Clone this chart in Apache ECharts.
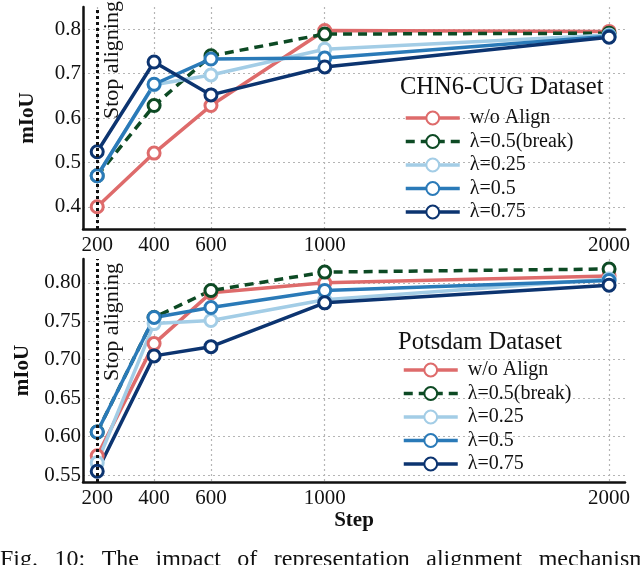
<!DOCTYPE html>
<html lang="en">
<head>
<meta charset="UTF-8">
<title>mIoU vs Step</title>
<script src="https://cdn.jsdelivr.net/npm/echarts@6/dist/echarts.min.js"></script>
<style>
    html, body { margin: 0; padding: 0; background: #fff; }
    #main { width: 640px; height: 565px; }
</style>
</head>
<body>
<div id="main"></div>
<script>
    // x positions (training step)
    var steps = [200, 400, 600, 1000, 2000];
    var stopStep = 200;
    var seriesNames = ['w/o Align', 'λ=0.5(break)', 'λ=0.25', 'λ=0.5', 'λ=0.75'];
    var seriesColors = ['#de6b6b', '#0d4a24', '#a3cde6', '#2a7ab8', '#0c3470'];

    // CHN6-CUG panel
    var chnWoAlign = [0.400, 0.521, 0.628, 0.797, 0.795];
    var chnBreak   = [0.470, 0.628, 0.740, 0.789, 0.791];
    var chnL025    = [0.470, 0.675, 0.697, 0.755, 0.787];
    var chnL05     = [0.470, 0.676, 0.733, 0.735, 0.784];
    var chnL075    = [0.524, 0.726, 0.652, 0.715, 0.782];

    // Potsdam panel
    var potWoAlign = [0.575, 0.721, 0.787, 0.800, 0.809];
    var potBreak   = [0.606, 0.755, 0.790, 0.814, 0.818];
    var potL025    = [0.566, 0.747, 0.751, 0.778, 0.805];
    var potL05     = [0.606, 0.755, 0.768, 0.790, 0.803];
    var potL075    = [0.555, 0.705, 0.717, 0.774, 0.797];

    var chnTicks = [0.4, 0.5, 0.6, 0.7, 0.8];
    var potTicks = [0.55, 0.60, 0.65, 0.70, 0.75, 0.80];

    var captionWords = ['Fig.', '10:', 'The', 'impact', 'of', 'representation', 'alignment', 'mechanism'];

    var FONT = '"Liberation Serif", "Times New Roman", serif';

    function makeSeries(name, values, color, idx, dashed) {
        return {
            type: 'line',
            name: name,
            xAxisIndex: idx,
            yAxisIndex: idx,
            data: steps.map(function (s, i) { return [s, values[i]]; }),
            symbol: 'circle',
            symbolSize: 12,
            showAllSymbol: true,
            lineStyle: { color: color, width: 3.5, type: dashed ? [9, 6] : 'solid' },
            itemStyle: { color: '#fff', borderColor: color, borderWidth: 3 },
            emphasis: { disabled: true }
        };
    }

    function stopLine() {
        return {
            silent: true,
            symbol: ['none', 'none'],
            label: { show: false },
            lineStyle: { color: '#111', width: 3, type: [3, 3] },
            data: [{ xAxis: stopStep }]
        };
    }

    var chnData = [chnWoAlign, chnBreak, chnL025, chnL05, chnL075];
    var potData = [potWoAlign, potBreak, potL025, potL05, potL075];

    var series = [];
    chnData.forEach(function (d, i) {
        series.push(makeSeries(seriesNames[i], d, seriesColors[i], 0, i === 1));
    });
    potData.forEach(function (d, i) {
        series.push(makeSeries(seriesNames[i], d, seriesColors[i], 1, i === 1));
    });
    series[0].markLine = stopLine();
    series[5].markLine = stopLine();

    function xAxis(idx, withName) {
        return {
            type: 'value',
            gridIndex: idx,
            min: 150,
            max: 2056,
            name: withName ? 'Step' : '',
            nameLocation: 'middle',
            nameGap: 24,
            nameTextStyle: { fontFamily: FONT, fontSize: 21, fontWeight: 'bold', color: '#111' },
            axisLine: { onZero: false, lineStyle: { color: '#111', width: 2.5 } },
            axisTick: { show: false, customValues: steps },
            axisLabel: {
                customValues: steps,
                margin: 6,
                fontFamily: FONT, fontSize: 21, color: '#111',
                formatter: function (v) { return String(v); }
            },
            splitLine: { show: true, lineStyle: { color: '#b5b5b5', width: 1.2, type: [2, 3] } }
        };
    }

    function yAxis(idx, min, max, ticks, digits) {
        return {
            type: 'value',
            gridIndex: idx,
            min: min,
            max: max,
            name: 'mIoU',
            nameLocation: 'middle',
            nameGap: 45,
            nameTextStyle: { fontFamily: FONT, fontSize: 21, fontWeight: 'bold', color: '#111' },
            axisLine: { show: true, lineStyle: { color: '#111', width: 2.5 } },
            axisTick: { show: false, customValues: ticks },
            axisLabel: {
                customValues: ticks,
                margin: 2,
                fontFamily: FONT, fontSize: 21, color: '#111',
                formatter: function (v) { return v.toFixed(digits); }
            },
            splitLine: { show: true, lineStyle: { color: '#b5b5b5', width: 1.2, type: [2, 3] } }
        };
    }

    function legend(left, top) {
        return {
            left: left,
            top: top,
            orient: 'vertical',
            data: seriesNames,
            itemWidth: 54,
            itemHeight: 16,
            itemGap: 3.5,
            selectedMode: false,
            lineStyle: { width: 3.5 },
            textStyle: { fontFamily: FONT, fontSize: 20, color: '#111', padding: [0, 0, 0, 5] }
        };
    }

    var chart = echarts.init(document.getElementById('main'));
    var option = {
        animation: false,
        backgroundColor: '#fff',
        grid: [
            { left: 83, top: 7, width: 542, height: 222 },
            { left: 83, top: 259, width: 542, height: 223 }
        ],
        xAxis: [xAxis(0, false), xAxis(1, true)],
        yAxis: [
            yAxis(0, 0.35, 0.85, chnTicks, 1),
            yAxis(1, 0.541, 0.831, potTicks, 2)
        ],
        legend: [legend(399, 103), legend(397, 355)],
        series: series
    };
    chart.setOption(option);

    // annotations placed from the axes
    var xStop0 = chart.convertToPixel({ xAxisIndex: 0 }, stopStep);
    var xStop1 = chart.convertToPixel({ xAxisIndex: 1 }, stopStep);
    var graphics = [
        { type: 'text', x: 400, y: 88, style: { text: 'CHN6-CUG Dataset', font: '24.5px ' + FONT, fill: '#111', textAlign: 'left', textVerticalAlign: 'middle' } },
        { type: 'text', x: 398, y: 343, style: { text: 'Potsdam Dataset', font: '24.5px ' + FONT, fill: '#111', textAlign: 'left', textVerticalAlign: 'middle' } },
        { type: 'text', x: xStop0 + 15, y: 119, rotation: Math.PI / 2, style: { text: 'Stop aligning', font: '22px ' + FONT, fill: '#111', textAlign: 'left', textVerticalAlign: 'middle' } },
        { type: 'text', x: xStop1 + 15, y: 381, rotation: Math.PI / 2, style: { text: 'Stop aligning', font: '22px ' + FONT, fill: '#111', textAlign: 'left', textVerticalAlign: 'middle' } }
    ];

    // justified caption line, cut off at the bottom edge
    var capFont = '24px ' + FONT;
    var ctx = document.createElement('canvas').getContext('2d');
    ctx.font = capFont;
    var widths = captionWords.map(function (w) { return ctx.measureText(w).width; });
    var total = widths.reduce(function (a, b) { return a + b; }, 0);
    var gap = (648 - total) / (captionWords.length - 1);
    var cx = 0;
    captionWords.forEach(function (w, i) {
        graphics.push({ type: 'text', x: cx, y: 548, style: { text: w, font: capFont, fill: '#111', textAlign: 'left', textVerticalAlign: 'top' } });
        cx += widths[i] + gap;
    });
    chart.setOption({ graphic: graphics });
</script>
</body>
</html>
